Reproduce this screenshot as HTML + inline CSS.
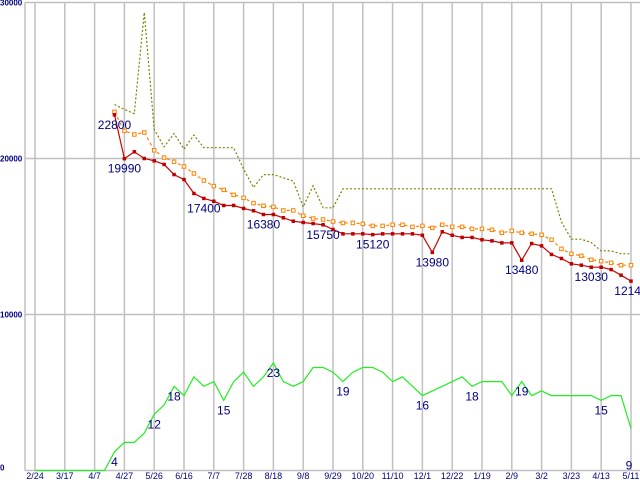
<!DOCTYPE html>
<html><head><meta charset="utf-8"><style>
html,body{margin:0;padding:0;background:#fff}
svg{display:block}
</style></head><body>
<svg id="chart" width="640" height="480" viewBox="0 0 640 480" xmlns="http://www.w3.org/2000/svg" font-family="'Liberation Sans', sans-serif"></svg>
<script>
const xTickLabels=["2/24","3/17","4/7","4/27","5/26","6/16","7/7","7/28","8/18","9/8","9/29","10/20","11/10","12/1","12/22","1/19","2/9","3/2","3/23","4/13","5/11"];
const yTicks=[0,10000,20000,30000];
const startIndex=8;
const minPrice=[22800,19990,20430,20000,19850,19620,18970,18650,17760,17440,17260,16990,16990,16800,16650,16410,16410,16200,15980,15900,15830,15750,15450,15170,15170,15170,15120,15170,15170,15170,15170,15080,13980,15300,15080,14940,14940,14790,14720,14590,14590,13480,14550,14400,13850,13590,13250,13160,13030,13030,12880,12520,12140];
const avgPrice=[22990,21770,21540,21670,20530,20060,19790,19490,19040,18590,18230,17990,17670,17480,17140,16970,16900,16670,16670,16330,16150,16090,15960,15870,15870,15810,15680,15680,15750,15750,15620,15680,15550,15750,15620,15620,15490,15490,15430,15240,15360,15240,15170,15110,14790,14210,13890,13760,13510,13420,13310,13160,13160];
const maxPrice=[23460,23140,22880,29360,21860,20750,21600,20600,21500,20690,20690,20690,20690,19320,18140,18970,18970,18760,18550,16900,18250,16840,16840,18060,18060,18060,18060,18060,18060,18060,18060,18060,18060,18060,18060,18060,18060,18060,18060,18060,18060,18060,18060,18060,18060,15940,14830,14830,14610,14080,14080,13890,13890];
const shopCount=[0,0,0,0,0,0,0,0,4,6,6,8,12,14,18,16,20,18,19,15,19,21,18,20,23,19,18,19,22,22,21,19,21,22,22,21,19,20,18,16,17,18,19,20,18,19,19,19,16,19,16,17,16,16,16,16,16,15,16,16,9];
const priceLabels=[[8,"22800"],[9,"19990"],[17,"17400"],[23,"16380"],[29,"15750"],[34,"15120"],[40,"13980"],[49,"13480"],[56,"13030"],[60,"12140"]];
const countLabels=[[8,"4"],[12,"12"],[14,"18"],[19,"15"],[24,"23"],[31,"19"],[39,"16"],[44,"18"],[49,"19"],[57,"15"],[60,"9"]];
const countScale=300;

const svg=document.getElementById('chart');
const NS='http://www.w3.org/2000/svg';
const X0=35,WEEK=9.933,Y0=470.5,PXPER=156/10000,AXL=25;
function xs(i){return X0+i*WEEK;}
function ys(v){return Y0-v*PXPER;}
function mk(tag,attrs,parent){const e=document.createElementNS(NS,tag);for(const k in attrs)e.setAttribute(k,attrs[k]);(parent||svg).appendChild(e);return e;}

const grid=mk('g',{});


yTicks.forEach(v=>{
  const l=mk('line',{x1:AXL,x2:640,y1:ys(v),y2:ys(v),stroke:'#c0c0c0','stroke-width':1.5},grid);
  
  
  const t=mk('text',{x:0,y:ys(v)+(v===0?0:3),'font-size':8,'font-weight':'bold',fill:'#000080'},grid);
  
  
  t.textContent=String(v);
});
const ax=mk('line',{x1:AXL,x2:AXL,y1:ys(30000),y2:Y0,stroke:'#c0c0c0','stroke-width':1.5},grid);


xTickLabels.forEach((lab,k)=>{
  const x=xs(k*3);
  const l=mk('line',{x1:x,x2:x,y1:ys(30000),y2:Y0,stroke:'#c0c0c0','stroke-width':1.5},grid);
  
  
  const t=mk('text',{x:x,y:479,'font-size':9,'text-anchor':'middle',fill:'#000080'},grid);
  
  
  t.textContent=lab;
});

function pts(arr,off,scale){return arr.map((v,i)=>xs(i+off).toFixed(1)+','+ys(v*scale).toFixed(1)).join(' ');}

const gl=mk('polyline',{points:pts(shopCount,0,countScale),fill:'none',stroke:'#22ee22','stroke-width':1.2});



const ol=mk('polyline',{points:pts(maxPrice,startIndex,1),fill:'none',stroke:'#808000','stroke-width':1.2,'stroke-dasharray':'2,2'});



const orl=mk('polyline',{points:pts(avgPrice,startIndex,1),fill:'none',stroke:'#ff8000','stroke-width':1.2,'stroke-dasharray':'3,3'});


avgPrice.forEach((v,i)=>{
  const r=mk('rect',{x:xs(i+startIndex)-1.75,y:ys(v)-1.75,width:3.5,height:3.5,fill:'#fff',stroke:'#ff8000','stroke-width':1});
  
  
});

const rl=mk('polyline',{points:pts(minPrice,startIndex,1),fill:'none',stroke:'#cc0000','stroke-width':1.2});


minPrice.forEach((v,i)=>{
  const r=mk('rect',{x:xs(i+startIndex)-1.75,y:ys(v)-1.75,width:3.5,height:3.5,fill:'#bb0000'});
  
  
});

priceLabels.forEach(([i,txt])=>{
  const v=minPrice[i-startIndex];
  const t=mk('text',{x:xs(i),y:ys(v)+14,'font-size':12,'text-anchor':'middle',fill:'#000080'});
  
  
  t.textContent=txt;
});
countLabels.forEach(([i,txt])=>{
  const v=shopCount[i]*countScale;
  const t=mk('text',{x:xs(i)-(i===60?2:0),y:ys(v)+(i===60?41:14),'font-size':12,'text-anchor':'middle',fill:'#000080'});
  
  
  t.textContent=txt;
});
</script>
</body></html>
